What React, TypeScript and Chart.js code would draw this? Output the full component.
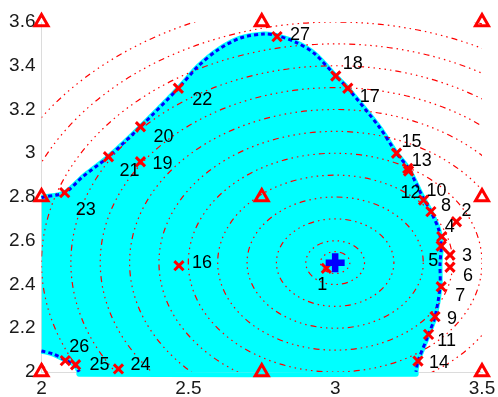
import React, { useEffect, useRef } from 'react';
import { Chart, registerables } from 'chart.js';

Chart.register(...registerables);

// ---------- data ----------
const xTicks = [2, 2.5, 3, 3.5];
const yTicks = [2, 2.2, 2.4, 2.6, 2.8, 3, 3.2, 3.4, 3.6];

const sampleLabels = ['1','2','3','4','5','6','7','8','9','10','11','12','13','14','15','16','17','18','19','20','21','22','23','24','25','26','27'];
const sampleX = [2.970, 3.413, 3.391, 3.363, 3.361, 3.391, 3.361, 3.326, 3.340, 3.301, 3.318, 3.250, 3.247, 3.282, 3.209, 2.468, 3.043, 3.002, 2.337, 2.337, 2.228, 2.466, 2.079, 2.262, 2.116, 2.081, 2.802];
const sampleY = [2.474, 2.687, 2.535, 2.619, 2.576, 2.479, 2.390, 2.733, 2.253, 2.786, 2.172, 2.919, 2.931, 2.050, 3.000, 2.486, 3.297, 3.353, 2.961, 3.121, 2.984, 3.297, 2.820, 2.014, 2.033, 2.052, 3.533];

const gridX = [2, 2.75, 3.5, 2, 2.75, 3.5, 2, 2.75, 3.5];
const gridY = [3.6, 3.6, 3.6, 2.8, 2.8, 2.8, 2, 2, 2];

const optimumX = [3.0];
const optimumY = [2.5];

const contourLevels = [0.05, 0.1, 0.2, 0.3, 0.4, 0.5, 0.6, 0.7, 0.8, 0.9, 1.0, 1.1, 1.2];

const boundaryX = [2.000, 2.005, 2.079, 2.141, 2.228, 2.337, 2.466, 2.533, 2.600, 2.678, 2.757, 2.802, 2.870, 2.930, 3.002, 3.043, 3.150, 3.209, 3.249, 3.298, 3.326, 3.353, 3.361, 3.357, 3.357, 3.340, 3.318, 3.282, 3.275];
const boundaryY = [2.797, 2.799, 2.820, 2.893, 2.984, 3.121, 3.297, 3.397, 3.472, 3.527, 3.545, 3.538, 3.505, 3.455, 3.353, 3.297, 3.120, 3.000, 2.931, 2.800, 2.733, 2.649, 2.573, 2.497, 2.390, 2.253, 2.172, 2.050, 2.001];

const cornerX = [2.000, 2.040, 2.085, 2.113, 2.128];
const cornerY = [2.096, 2.082, 2.052, 2.032, 2.001];

const regionFloor = 1.99;

// ---------- styles ----------
const labelOffsets: number[][] = [
  [-4, 17], [10, -11], [17, 1], [8, -10], [-8, 15], [18, 9], [19, 9], [15, -6], [17, 2], [13, -9],
  [18, 7], [2, 22], [14, -7], [21, 2], [15, -11], [23, -3], [22, 9], [17, -12], [22, 2], [23, 10],
  [21, 14], [24, 12], [21, 17], [22, -4], [24, 0], [14, -14], [23, -2],
];
const FONT = '"Liberation Sans", Arial, Helvetica, sans-serif';

const pts = (xs: number[], ys: number[]) => xs.map((x, i) => ({ x, y: ys[i] }));

const ringsPlugin = {
  id: 'rings',
  afterDatasetDraw(chart: any, args: any) {
    if (args.index !== 0) return;
    const { ctx, chartArea, scales } = chart;
    const xs = scales.x, ys = scales.y;
    ctx.save();
    ctx.beginPath();
    ctx.rect(chartArea.left, chartArea.top, chartArea.right - chartArea.left, chartArea.bottom - chartArea.top);
    ctx.clip();
    ctx.strokeStyle = '#ff0000';
    ctx.lineWidth = 1.2;
    ctx.setLineDash([1.5, 4, 1.5, 4, 1.5, 4, 1.5, 4, 1.5, 4, 6, 4]);
    const cx = xs.getPixelForValue(optimumX[0]);
    const cy = ys.getPixelForValue(optimumY[0]);
    for (const r of contourLevels) {
      const rx = Math.abs(xs.getPixelForValue(optimumX[0] + r) - cx);
      const ry = Math.abs(cy - ys.getPixelForValue(optimumY[0] + r));
      ctx.beginPath();
      ctx.ellipse(cx, cy, rx, ry, 0, 0, Math.PI * 2);
      ctx.stroke();
    }
    ctx.restore();
  },
};

const labelsPlugin = {
  id: 'sampleLabels',
  afterDatasetsDraw(chart: any) {
    const { ctx, scales } = chart;
    ctx.save();
    ctx.fillStyle = '#000000';
    ctx.font = `18px ${FONT}`;
    ctx.textAlign = 'center';
    ctx.textBaseline = 'middle';
    sampleLabels.forEach((t, i) => {
      const px = scales.x.getPixelForValue(sampleX[i]) + labelOffsets[i][0];
      const py = scales.y.getPixelForValue(sampleY[i]) + labelOffsets[i][1];
      ctx.fillText(t, px, py);
    });
    ctx.restore();
  },
};

export default function App() {
  const ref = useRef<HTMLCanvasElement | null>(null);

  useEffect(() => {
    if (!ref.current) return;
    const boundary = pts(boundaryX, boundaryY);
    const corner = pts(cornerX, cornerY);
    const region = [
      ...boundary,
      { x: boundaryX[boundaryX.length - 1], y: regionFloor },
      { x: cornerX[cornerX.length - 1], y: regionFloor },
      ...corner.slice().reverse(),
    ];

    const chart = new Chart(ref.current, {
      type: 'scatter',
      data: {
        datasets: [
          {
            data: region,
            showLine: true,
            fill: 'shape',
            backgroundColor: '#00ffff',
            borderColor: '#00ffff',
            borderWidth: 5,
            pointRadius: 0,
            tension: 0.3,
            clip: false,
            order: 10,
          } as any,
          {
            data: boundary,
            showLine: true,
            borderColor: '#0000ff',
            borderWidth: 3,
            borderDash: [4, 3],
            pointRadius: 0,
            tension: 0.3,
            clip: false,
            order: 8,
          },
          {
            data: corner,
            showLine: true,
            borderColor: '#0000ff',
            borderWidth: 3,
            borderDash: [4, 3],
            pointRadius: 0,
            tension: 0.3,
            clip: false,
            order: 8,
          },
          {
            data: pts(gridX, gridY),
            pointStyle: 'triangle',
            pointRadius: 7.5,
            borderWidth: 3,
            borderColor: '#ff0000',
            backgroundColor: 'rgba(0,0,0,0)',
            clip: false,
            order: 6,
          },
          {
            data: pts(sampleX, sampleY),
            pointStyle: 'crossRot',
            pointRadius: 6.5,
            borderWidth: 3,
            borderColor: '#ff0000',
            backgroundColor: '#ff0000',
            clip: false,
            order: 4,
          },
          {
            data: pts(optimumX, optimumY),
            pointStyle: 'cross',
            pointRadius: 9.5,
            borderWidth: 6.5,
            borderColor: '#0000ff',
            backgroundColor: '#0000ff',
            clip: false,
            order: 2,
          },
        ],
      },
      options: {
        animation: false,
        responsive: false,
        devicePixelRatio: 1,
        events: [],
        layout: { padding: { top: 22, right: 10.5, bottom: 0, left: 0 } },
        plugins: { legend: { display: false }, tooltip: { enabled: false } },
        scales: {
          x: {
            type: 'linear',
            min: xTicks[0],
            max: xTicks[xTicks.length - 1],
            afterBuildTicks: (s: any) => { s.ticks = xTicks.map((v) => ({ value: v })); },
            afterFit: (s: any) => { s.height = 25; s.paddingLeft = 0; s.paddingRight = 0; },
            ticks: { font: { family: FONT, size: 19 }, color: '#1a1a1a', padding: 5, maxRotation: 0, autoSkip: false, callback: (v: any) => String(v) },
            grid: { display: false, drawTicks: false },
            border: { display: true, color: '#dcdcdc', width: 1 },
          },
          y: {
            type: 'linear',
            min: yTicks[0],
            max: yTicks[yTicks.length - 1],
            afterBuildTicks: (s: any) => { s.ticks = yTicks.map((v) => ({ value: v })); },
            afterFit: (s: any) => { s.width = 41.5; s.paddingTop = 0; s.paddingBottom = 0; },
            ticks: { font: { family: FONT, size: 19 }, color: '#1a1a1a', padding: 6, autoSkip: false, callback: (v: any) => String(v) },
            grid: { display: false, drawTicks: false },
            border: { display: true, color: '#dcdcdc', width: 1 },
          },
        },
      },
      plugins: [ringsPlugin, labelsPlugin],
    } as any);
    return () => chart.destroy();
  }, []);

  return (
    <div style={{ position: 'fixed', left: 0, top: 0, width: 498, height: 397, background: '#fff' }}>
      <canvas ref={ref} width={498} height={397} style={{ width: 498, height: 397, display: 'block' }} />
    </div>
  );
}
